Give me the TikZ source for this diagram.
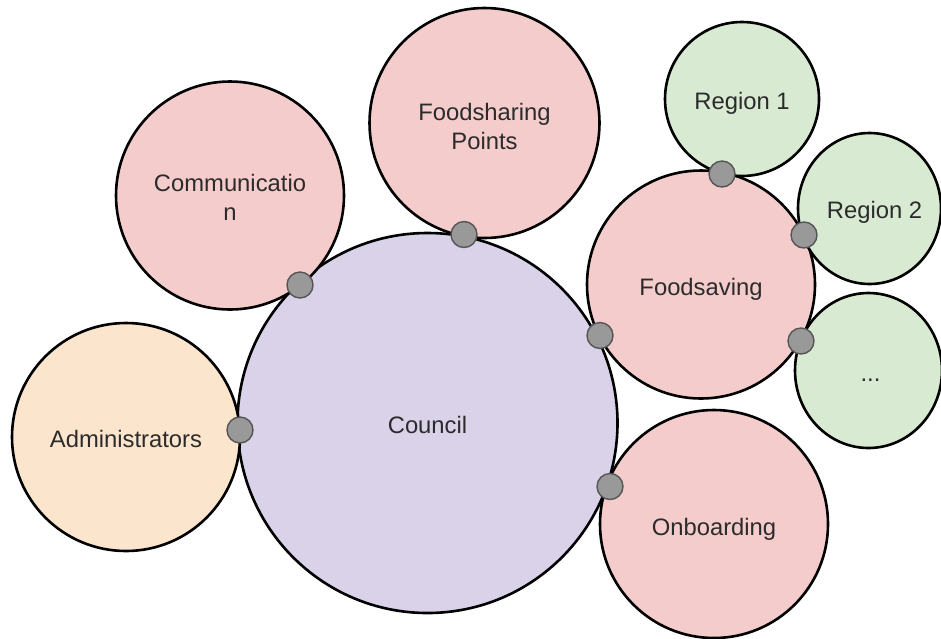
\documentclass[tikz,border=0pt]{standalone}
\usepackage{fontspec}
\setmainfont{Liberation Sans}
\usetikzlibrary{shapes.geometric}
\definecolor{pinkf}{HTML}{F4CCCC}
\definecolor{lavf}{HTML}{D9D2E9}
\definecolor{orangef}{HTML}{FCE5CD}
\definecolor{greenf}{HTML}{D9EAD3}
\definecolor{dotf}{HTML}{999999}
\definecolor{dotd}{HTML}{555555}
\definecolor{txt}{HTML}{2B2B2B}
\begin{document}
\begin{tikzpicture}[x=1pt,y=-1pt,
  bub/.style={circle, draw=black, line width=2.6pt, inner sep=0pt},
  oval/.style={ellipse, draw=black, line width=2.6pt, inner sep=0pt},
  lbl/.style={inner sep=0pt, align=center, text=txt, font=\fontsize{23.8}{28.5}\selectfont},
  joint/.style={circle, fill=dotf, draw=dotd, line width=1.4pt, minimum size=26pt, inner sep=0pt}]
\useasboundingbox (0,0) rectangle (941,638);
\fill[white] (0,0) rectangle (941,638);
% main bubbles
\node[bub, fill=lavf, minimum size=380pt] (council) at (427.5,423) {};
\node[bub, fill=orangef, minimum size=228pt] (admin) at (126,437) {};
\node[bub, fill=pinkf, minimum size=228pt] (comm) at (230,195.5) {};
\node[bub, fill=pinkf, minimum size=230pt] (fsp) at (484.5,123) {};
\node[bub, fill=pinkf, minimum size=228pt] (fsave) at (701,284.5) {};
\node[bub, fill=pinkf, minimum size=228pt] (onb) at (714,524) {};
\node[bub, fill=greenf, minimum size=154pt] (reg1) at (742,99) {};
\node[oval, fill=greenf, minimum width=143pt, minimum height=151pt] (reg2) at (869.5,208.5) {};
\node[oval, fill=greenf, minimum width=147pt, minimum height=155pt] (more) at (868.5,370.5) {};
% labels
\node[lbl] (tcouncil) at ([yshift=-1.5pt]council.center) {Council};
\node[lbl] (tadmin) at ([yshift=-1.5pt]admin.center) {Administrators};
\node[lbl] (tcomm) at ([yshift=-2pt]comm.center) {Communicatio\\n};
\node[lbl] (tfsp) at ([yshift=-3.5pt]fsp.center) {Foodsharing\\Points};
\node[lbl] (tfsave) at ([yshift=-5pt]fsave.center) {Foodsaving};
\node[lbl] (tonb) at ([yshift=-5pt]onb.center) {Onboarding};
\node[lbl] (treg1) at ([yshift=-4pt]reg1.center) {Region 1};
\node[lbl] (treg2) at ([xshift=5pt,yshift=-4pt]reg2.center) {Region 2};
\node[lbl] (tmore) at ([xshift=2pt,yshift=-10pt]more.center) {...};
% joints
\node[joint] (j1) at (300,285) {};
\node[joint] (j2) at (464,234.5) {};
\node[joint] (j3) at (240,430) {};
\node[joint] (j4) at (600,335.5) {};
\node[joint] (j5) at (610,486.5) {};
\node[joint] (j6) at (722,174) {};
\node[joint] (j7) at (804,235) {};
\node[joint] (j8) at (801,341) {};
\end{tikzpicture}
\end{document}
